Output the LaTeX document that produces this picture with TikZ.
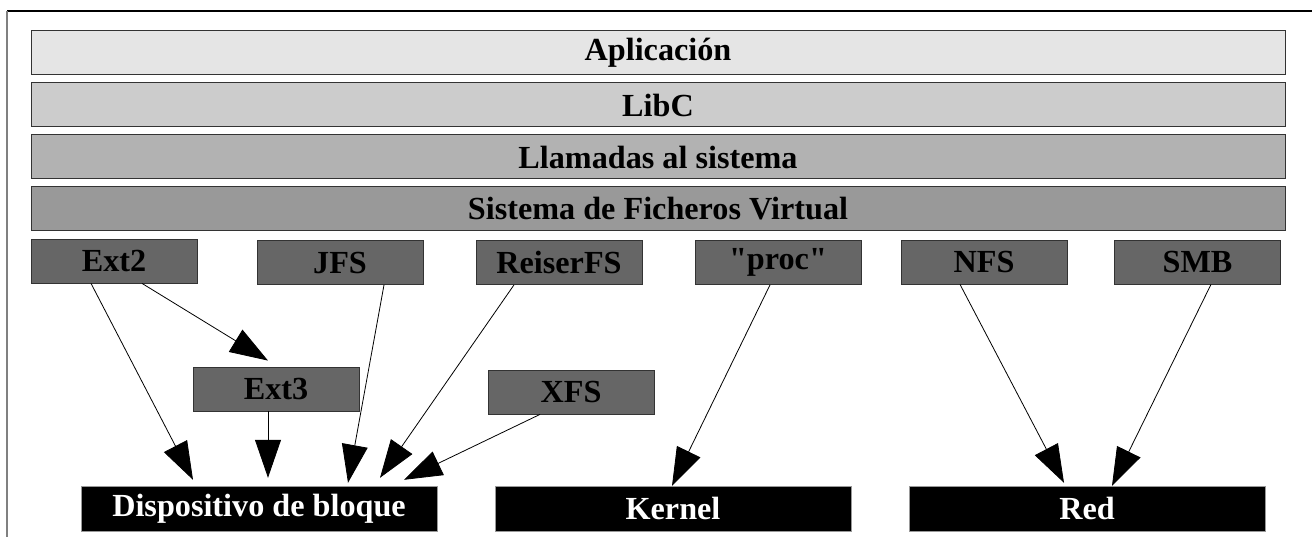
\documentclass[tikz,border=0pt]{standalone}
\usepackage{fontspec}
\setmainfont{Liberation Serif}[Ligatures=TeXOff]
\usetikzlibrary{arrows.meta}

\begin{document}
\begin{tikzpicture}[x=1pt, y=-1pt,
    every node/.style={font=\fontsize{32.2}{38}\selectfont\bfseries, inner sep=0pt},
    capa/.style={draw=black!80, line width=1pt, minimum width=1254pt, minimum height=44pt},
    fsbox/.style={draw=black!80, fill=black!60, line width=0.8pt, minimum width=166pt, minimum height=44pt},
    destino/.style={draw=black!40, fill=black, text=white, minimum width=356pt, minimum height=45pt},
    flecha/.style={line width=0.8pt, -{Triangle[length=38pt,width=26pt]}}]
      \useasboundingbox (0,0) rectangle (1312,537);
      \draw[line width=1.3pt] (7,11) -- (1312,11);
      \draw[black!50, line width=2pt] (7,11) -- (7,537);

      \node[capa, fill=black!10] (apl) at (658,53)  {Aplicación};
      \node[capa, fill=black!20] (libc) at (658,105) {LibC};
      \node[capa, fill=black!30] (llam) at (658,157) {Llamadas al sistema};
      \node[capa, fill=black!40] (vfs) at (658,209)  {Sistema de Ficheros Virtual};

      \node[fsbox] (ext2) at (114,261)     {Ext2};
      \node[fsbox] (jfs) at (340,262.5)    {JFS};
      \node[fsbox] (reiser) at (559,262.5) {ReiserFS};
      \node[fsbox] (proc) at (778,262.5)   {"proc"};
      \node[fsbox] (nfs) at (984,262)      {NFS};
      \node[fsbox] (smb) at (1197.5,262)   {SMB};
      \node[fsbox] (ext3) at (276,389)     {Ext3};
      \node[fsbox] (xfs) at (571,392)      {XFS};

      \node[destino] (disp) at (259,508.5)   {Dispositivo de bloque};
      \node[destino] (kernel) at (673,508.5) {Kernel};
      \node[destino] (red) at (1087,508.5)   {Red};

      \draw[flecha] ([xshift=-23pt]ext2.south) -- ([xshift=-66pt,yshift=6pt]disp.north);
      \draw[flecha] ([xshift=28pt]ext2.south) -- ([xshift=-8pt,yshift=6pt]ext3.north);
      \draw[flecha] ([xshift=-8pt]ext3.south) -- ([xshift=9pt,yshift=8pt]disp.north);
      \draw[flecha] ([xshift=44pt]jfs.south) -- ([xshift=89pt,yshift=3pt]disp.north);
      \draw[flecha] ([xshift=-45pt]reiser.south) -- ([xshift=121pt,yshift=8pt]disp.north);
      \draw[flecha] ([xshift=-31pt]xfs.south) -- ([xshift=145pt,yshift=6pt]disp.north);
      \draw[flecha] ([xshift=-8pt]proc.south) -- ([xshift=-1pt]kernel.north);
      \draw[flecha] ([xshift=-24pt]nfs.south) -- ([xshift=-23pt,yshift=3pt]red.north);
      \draw[flecha] ([xshift=13.5pt]smb.south) -- ([xshift=25pt]red.north);
    \end{tikzpicture}
\end{document}
